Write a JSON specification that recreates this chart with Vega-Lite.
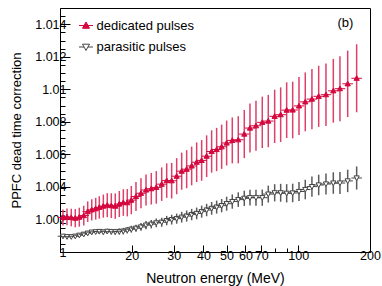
{
  "$schema": "https://vega.github.io/schema/vega-lite/v6.json",
  "width": 310,
  "height": 244,
  "autosize": "none",
  "padding": {"left": 60, "top": 8, "right": 12, "bottom": 34},
  "background": "white",
  "config": {
    "view": {"stroke": "black", "strokeWidth": 1},
    "font": "Liberation Sans",
    "axis": {"grid": false, "domainColor": "black", "tickColor": "black", "labelColor": "black", "titleColor": "black", "labelFont": "Liberation Sans", "titleFont": "Liberation Sans", "titleFontWeight": "normal", "labelFontSize": 12.5, "domainWidth": 1, "tickWidth": 1},
    "legend": {"symbolSize": 196, "symbolStrokeWidth": 1, "labelFontSize": 13, "labelFont": "Liberation Sans", "labelColor": "black", "labelOffset": 3, "rowPadding": 6.5, "padding": 0}
  },
  "datasets": {
    "pts": [
      {"E":10.29,"s":"dedicated pulses","c":1.00212,"e":0.00049},
      {"E":10.70,"s":"dedicated pulses","c":1.00216,"e":0.00052},
      {"E":11.15,"s":"dedicated pulses","c":1.00212,"e":0.00054},
      {"E":11.59,"s":"dedicated pulses","c":1.00208,"e":0.00056},
      {"E":12.05,"s":"dedicated pulses","c":1.00214,"e":0.00058},
      {"E":12.58,"s":"dedicated pulses","c":1.00224,"e":0.00061},
      {"E":13.07,"s":"dedicated pulses","c":1.00248,"e":0.00063},
      {"E":13.59,"s":"dedicated pulses","c":1.00259,"e":0.00065},
      {"E":14.12,"s":"dedicated pulses","c":1.00266,"e":0.00067},
      {"E":14.62,"s":"dedicated pulses","c":1.00274,"e":0.00069},
      {"E":15.20,"s":"dedicated pulses","c":1.00282,"e":0.00071},
      {"E":15.79,"s":"dedicated pulses","c":1.00288,"e":0.00074},
      {"E":16.42,"s":"dedicated pulses","c":1.00285,"e":0.00076},
      {"E":17.06,"s":"dedicated pulses","c":1.00282,"e":0.00078},
      {"E":17.74,"s":"dedicated pulses","c":1.00295,"e":0.00080},
      {"E":18.44,"s":"dedicated pulses","c":1.00304,"e":0.00082},
      {"E":19.16,"s":"dedicated pulses","c":1.00303,"e":0.00084},
      {"E":19.92,"s":"dedicated pulses","c":1.00319,"e":0.00087},
      {"E":20.84,"s":"dedicated pulses","c":1.00341,"e":0.00089},
      {"E":21.87,"s":"dedicated pulses","c":1.00361,"e":0.00092},
      {"E":22.96,"s":"dedicated pulses","c":1.00381,"e":0.00095},
      {"E":24.16,"s":"dedicated pulses","c":1.00389,"e":0.00097},
      {"E":25.36,"s":"dedicated pulses","c":1.00397,"e":0.00100},
      {"E":26.72,"s":"dedicated pulses","c":1.00417,"e":0.00103},
      {"E":28.04,"s":"dedicated pulses","c":1.00439,"e":0.00106},
      {"E":29.42,"s":"dedicated pulses","c":1.00438,"e":0.00109},
      {"E":30.88,"s":"dedicated pulses","c":1.00466,"e":0.00111},
      {"E":32.41,"s":"dedicated pulses","c":1.00497,"e":0.00114},
      {"E":34.01,"s":"dedicated pulses","c":1.00509,"e":0.00117},
      {"E":35.69,"s":"dedicated pulses","c":1.00529,"e":0.00119},
      {"E":37.46,"s":"dedicated pulses","c":1.00552,"e":0.00122},
      {"E":39.31,"s":"dedicated pulses","c":1.00563,"e":0.00125},
      {"E":41.25,"s":"dedicated pulses","c":1.00589,"e":0.00128},
      {"E":43.29,"s":"dedicated pulses","c":1.00618,"e":0.00130},
      {"E":45.44,"s":"dedicated pulses","c":1.00630,"e":0.00133},
      {"E":47.69,"s":"dedicated pulses","c":1.00647,"e":0.00136},
      {"E":50.05,"s":"dedicated pulses","c":1.00670,"e":0.00138},
      {"E":52.85,"s":"dedicated pulses","c":1.00686,"e":0.00141},
      {"E":56.00,"s":"dedicated pulses","c":1.00690,"e":0.00145},
      {"E":59.35,"s":"dedicated pulses","c":1.00725,"e":0.00148},
      {"E":62.71,"s":"dedicated pulses","c":1.00762,"e":0.00151},
      {"E":66.45,"s":"dedicated pulses","c":1.00776,"e":0.00154},
      {"E":70.62,"s":"dedicated pulses","c":1.00797,"e":0.00158},
      {"E":74.84,"s":"dedicated pulses","c":1.00805,"e":0.00161},
      {"E":79.60,"s":"dedicated pulses","c":1.00834,"e":0.00164},
      {"E":84.35,"s":"dedicated pulses","c":1.00844,"e":0.00168},
      {"E":89.39,"s":"dedicated pulses","c":1.00872,"e":0.00171},
      {"E":94.74,"s":"dedicated pulses","c":1.00873,"e":0.00174},
      {"E":100.7,"s":"dedicated pulses","c":1.00898,"e":0.00178},
      {"E":107.0,"s":"dedicated pulses","c":1.00923,"e":0.00181},
      {"E":114.1,"s":"dedicated pulses","c":1.00940,"e":0.00185},
      {"E":121.8,"s":"dedicated pulses","c":1.00957,"e":0.00188},
      {"E":130.7,"s":"dedicated pulses","c":1.00967,"e":0.00192},
      {"E":140.3,"s":"dedicated pulses","c":1.00991,"e":0.00196},
      {"E":149.6,"s":"dedicated pulses","c":1.01004,"e":0.00200},
      {"E":161.2,"s":"dedicated pulses","c":1.01034,"e":0.00204},
      {"E":175.8,"s":"dedicated pulses","c":1.01068,"e":0.00209},
      {"E":10.29,"s":"parasitic pulses","c":1.00097,"e":0.00006},
      {"E":10.70,"s":"parasitic pulses","c":1.00094,"e":0.00007},
      {"E":11.15,"s":"parasitic pulses","c":1.00094,"e":0.00008},
      {"E":11.59,"s":"parasitic pulses","c":1.00097,"e":0.00009},
      {"E":12.05,"s":"parasitic pulses","c":1.00103,"e":0.00010},
      {"E":12.58,"s":"parasitic pulses","c":1.00109,"e":0.00011},
      {"E":13.07,"s":"parasitic pulses","c":1.00116,"e":0.00012},
      {"E":13.59,"s":"parasitic pulses","c":1.00122,"e":0.00013},
      {"E":14.12,"s":"parasitic pulses","c":1.00124,"e":0.00013},
      {"E":14.62,"s":"parasitic pulses","c":1.00126,"e":0.00014},
      {"E":15.20,"s":"parasitic pulses","c":1.00123,"e":0.00015},
      {"E":15.79,"s":"parasitic pulses","c":1.00127,"e":0.00016},
      {"E":16.42,"s":"parasitic pulses","c":1.00125,"e":0.00017},
      {"E":17.06,"s":"parasitic pulses","c":1.00124,"e":0.00018},
      {"E":17.74,"s":"parasitic pulses","c":1.00126,"e":0.00019},
      {"E":18.44,"s":"parasitic pulses","c":1.00128,"e":0.00020},
      {"E":19.16,"s":"parasitic pulses","c":1.00134,"e":0.00020},
      {"E":19.92,"s":"parasitic pulses","c":1.00140,"e":0.00021},
      {"E":20.84,"s":"parasitic pulses","c":1.00146,"e":0.00022},
      {"E":21.87,"s":"parasitic pulses","c":1.00154,"e":0.00024},
      {"E":22.96,"s":"parasitic pulses","c":1.00165,"e":0.00025},
      {"E":24.16,"s":"parasitic pulses","c":1.00171,"e":0.00026},
      {"E":25.36,"s":"parasitic pulses","c":1.00179,"e":0.00027},
      {"E":26.72,"s":"parasitic pulses","c":1.00183,"e":0.00028},
      {"E":28.04,"s":"parasitic pulses","c":1.00193,"e":0.00029},
      {"E":29.42,"s":"parasitic pulses","c":1.00199,"e":0.00030},
      {"E":30.88,"s":"parasitic pulses","c":1.00205,"e":0.00031},
      {"E":32.41,"s":"parasitic pulses","c":1.00214,"e":0.00033},
      {"E":34.01,"s":"parasitic pulses","c":1.00221,"e":0.00034},
      {"E":35.69,"s":"parasitic pulses","c":1.00230,"e":0.00035},
      {"E":37.46,"s":"parasitic pulses","c":1.00237,"e":0.00036},
      {"E":39.31,"s":"parasitic pulses","c":1.00248,"e":0.00037},
      {"E":41.25,"s":"parasitic pulses","c":1.00258,"e":0.00038},
      {"E":43.29,"s":"parasitic pulses","c":1.00268,"e":0.00039},
      {"E":45.44,"s":"parasitic pulses","c":1.00276,"e":0.00040},
      {"E":47.69,"s":"parasitic pulses","c":1.00285,"e":0.00041},
      {"E":50.05,"s":"parasitic pulses","c":1.00297,"e":0.00043},
      {"E":52.85,"s":"parasitic pulses","c":1.00310,"e":0.00044},
      {"E":56.00,"s":"parasitic pulses","c":1.00322,"e":0.00045},
      {"E":59.35,"s":"parasitic pulses","c":1.00330,"e":0.00047},
      {"E":62.71,"s":"parasitic pulses","c":1.00334,"e":0.00048},
      {"E":66.45,"s":"parasitic pulses","c":1.00334,"e":0.00049},
      {"E":70.62,"s":"parasitic pulses","c":1.00334,"e":0.00050},
      {"E":74.84,"s":"parasitic pulses","c":1.00356,"e":0.00052},
      {"E":79.60,"s":"parasitic pulses","c":1.00364,"e":0.00053},
      {"E":84.35,"s":"parasitic pulses","c":1.00364,"e":0.00055},
      {"E":89.39,"s":"parasitic pulses","c":1.00361,"e":0.00056},
      {"E":94.74,"s":"parasitic pulses","c":1.00363,"e":0.00057},
      {"E":100.7,"s":"parasitic pulses","c":1.00372,"e":0.00059},
      {"E":107.0,"s":"parasitic pulses","c":1.00384,"e":0.00060},
      {"E":114.1,"s":"parasitic pulses","c":1.00402,"e":0.00062},
      {"E":121.8,"s":"parasitic pulses","c":1.00412,"e":0.00063},
      {"E":130.7,"s":"parasitic pulses","c":1.00418,"e":0.00065},
      {"E":140.3,"s":"parasitic pulses","c":1.00424,"e":0.00066},
      {"E":149.6,"s":"parasitic pulses","c":1.00424,"e":0.00068},
      {"E":161.2,"s":"parasitic pulses","c":1.00437,"e":0.00069},
      {"E":175.8,"s":"parasitic pulses","c":1.00455,"e":0.00071}
    ],
    "ann": [{"E":157.8,"c":1.01406,"t":"(b)"}]
  },
  "encoding": {
    "x": {"field": "E", "type": "quantitative",
      "scale": {"type": "log", "domain": [10, 200], "nice": false},
      "axis": {"title": "Neutron energy (MeV)", "titleFontSize": 14, "titleX": 155, "titleY": 30, "titleBaseline": "alphabetic", "titleAlign": "center",
        "values": [20, 30, 40, 50, 60, 70, 80, 90, 100, 200],
        "labelExpr": "(datum.value == 80 || datum.value == 90) ? '' : datum.label",
        "labelPadding": 4, "labelFlush": false, "labelOverlap": false,
        "tickSize": {"condition": {"test": "datum.value == 80 || datum.value == 90", "value": -4}, "value": -7}}},
    "y": {"field": "c", "type": "quantitative",
      "scale": {"domain": [1, 1.015], "nice": false, "zero": false},
      "axis": {"title": "PPFC dead time correction", "titleFontSize": 13, "titleX": -40, "titleY": 122, "titleBaseline": "alphabetic", "titleAlign": "center", "titleAngle": -90,
        "values": [1, 1.0005, 1.001, 1.0015, 1.002, 1.0025, 1.003, 1.0035, 1.004, 1.0045, 1.005, 1.0055, 1.006, 1.0065, 1.007, 1.0075, 1.008, 1.0085, 1.009, 1.0095, 1.01, 1.0105, 1.011, 1.0115, 1.012, 1.0125, 1.013, 1.0135, 1.014, 1.0145],
        "labelExpr": "round(datum.value * 2000) % 4 != 0 ? '' : (datum.value == 1 ? '1' : replace(format(datum.value, '.3f'), /0$/, ''))",
        "labelPadding": 4, "labelFlush": false, "labelOverlap": false,
        "tickSize": {"condition": {"test": "round(datum.value * 2000) % 4 == 0", "value": -10}, "value": -5}}}
  },
  "layer": [
    {
      "data": {"name": "pts"},
      "transform": [{"filter": "datum.s == 'dedicated pulses'"}],
      "mark": {"type": "errorbar", "ticks": false, "thickness": 1.5, "color": "#dd4069"},
      "encoding": {"yError": {"field": "e"}}
    },
    {
      "data": {"name": "pts"},
      "transform": [{"filter": "datum.s == 'parasitic pulses'"}],
      "mark": {"type": "errorbar", "ticks": false, "thickness": 1.5, "color": "#5a5a5a"},
      "encoding": {"yError": {"field": "e"}}
    },
    {
      "data": {"name": "pts"},
      "mark": {"type": "point", "filled": true, "size": 110, "strokeWidth": 1, "opacity": 1},
      "encoding": {
        "shape": {"field": "s", "type": "nominal",
          "scale": {"domain": ["dedicated pulses", "parasitic pulses"], "range": ["M-1,0H1M0,-0.5L0.5,0.4L-0.5,0.4Z", "M-1,0H-0.28M0.28,0H1M-0.5,-0.4L0.5,-0.4L0,0.5Z"]},
          "legend": {"title": null, "orient": "none", "legendX": 18.5, "legendY": 10}},
        "fill": {"field": "s", "type": "nominal",
          "scale": {"domain": ["dedicated pulses", "parasitic pulses"], "range": ["#d4093f", "white"]},
          "legend": {"title": null, "orient": "none", "legendX": 18.5, "legendY": 10}},
        "stroke": {"field": "s", "type": "nominal",
          "scale": {"domain": ["dedicated pulses", "parasitic pulses"], "range": ["#d4093f", "#444444"]},
          "legend": {"title": null, "orient": "none", "legendX": 18.5, "legendY": 10}}
      }
    },
    {
      "data": {"name": "ann"},
      "mark": {"type": "text", "fontSize": 13, "font": "Liberation Sans", "align": "center", "baseline": "middle", "color": "black"},
      "encoding": {"text": {"field": "t"}}
    }
  ]
}
